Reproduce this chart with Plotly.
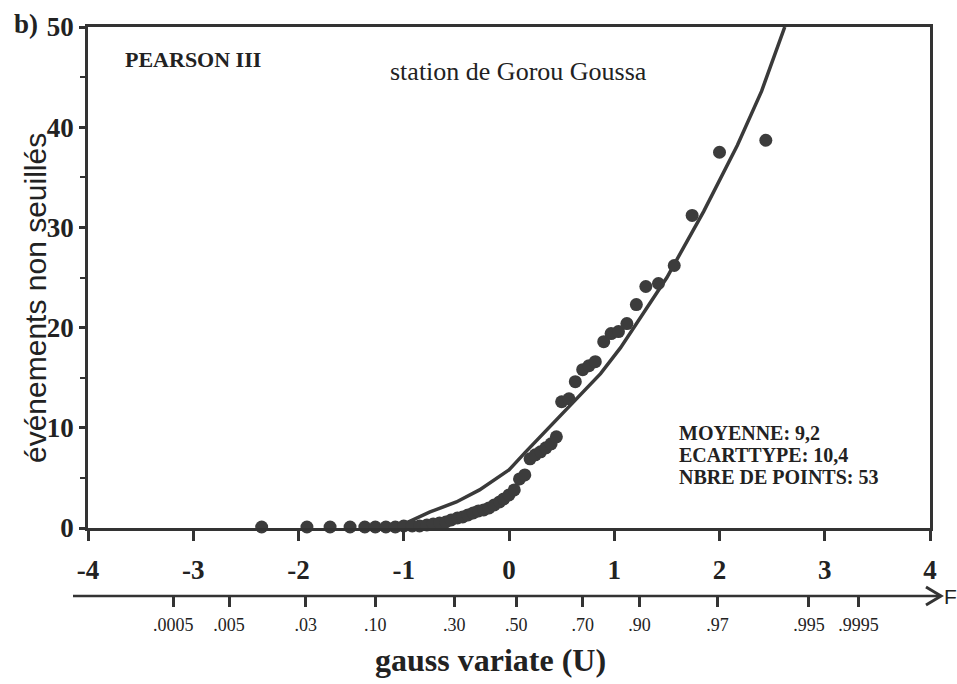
import plotly.graph_objects as go

# ---- data ----
U_OBS = [-2.35, -1.92, -1.70, -1.51, -1.37, -1.27, -1.17, -1.08, -1.00, -0.92,
         -0.85, -0.78, -0.72, -0.66, -0.60, -0.55, -0.49, -0.44, -0.39, -0.34,
         -0.29, -0.24, -0.19, -0.14, -0.09, -0.05, 0.00, 0.05, 0.10, 0.15,
         0.20, 0.25, 0.30, 0.35, 0.40, 0.45, 0.50, 0.57, 0.63, 0.70,
         0.76, 0.82, 0.90, 0.97, 1.04, 1.12, 1.21, 1.30, 1.42, 1.57,
         1.74, 2.00, 2.44]
Y_OBS = [0.1, 0.1, 0.1, 0.1, 0.1, 0.1, 0.1, 0.1, 0.2, 0.2,
         0.2, 0.3, 0.4, 0.5, 0.6, 0.8, 1.0, 1.1, 1.3, 1.5,
         1.7, 1.8, 2.0, 2.3, 2.6, 2.9, 3.3, 3.8, 4.9, 5.3,
         6.9, 7.3, 7.6, 8.0, 8.4, 9.1, 12.6, 12.9, 14.6, 15.8,
         16.2, 16.6, 18.6, 19.4, 19.6, 20.4, 22.3, 24.1, 24.4, 26.2,
         31.2, 37.5, 38.7]

U_FIT = [-1.15, -1.0, -0.75, -0.5, -0.28, 0.0, 0.15, 0.5, 0.87, 1.06,
         1.5, 1.85, 2.17, 2.4, 2.62]
Y_FIT = [0.0, 0.4, 1.6, 2.6, 3.8, 5.8, 7.5, 11.3, 15.4, 18.0,
         25.0, 31.6, 38.2, 43.6, 50.0]

X_TICKS = [-4, -3, -2, -1, 0, 1, 2, 3, 4]
X_LABELS = ["-4", "-3", "-2", "-1", "0", "1", "2", "3", "4"]
Y_TICKS = [0, 10, 20, 30, 40, 50]
F_LABELS = [".0005", ".005", ".03", ".10", ".30", ".50", ".70", ".90", ".97", ".995", ".9995"]
F_POS = [-3.19, -2.66, -1.93, -1.27, -0.52, 0.07, 0.70, 1.24, 1.98, 2.85, 3.32]

STATS = ["MOYENNE: 9,2", "ECARTTYPE: 10,4", "NBRE DE POINTS: 53"]

INK = "#333333"
TXT = "#222222"
SERIF = "Liberation Serif"

fig = go.Figure()
fig.add_trace(go.Scatter(x=U_FIT, y=Y_FIT, mode="lines",
                         line=dict(color="#3a3a3a", width=3.5),
                         showlegend=False, cliponaxis=True))
fig.add_trace(go.Scatter(x=U_OBS, y=Y_OBS, mode="markers",
                         marker=dict(color="#3c3c3c", size=13),
                         showlegend=False, cliponaxis=False))
# invisible trace on the F axis so it is drawn
fig.add_trace(go.Scatter(x=[-4, 4], y=[None, None], xaxis="x2", yaxis="y",
                         mode="lines", showlegend=False, hoverinfo="skip"))

W, H = 957, 684
ML, MR, MT, MB = 88, 27, 27, 88
PW = W - ML - MR
PH = H - MT - MB
plot_bottom_px = 528
ydom0 = (H - MB - plot_bottom_px) / PH


def px_x(p):
    return (p - ML) / PW


def px_y(p):
    return (H - MB - p) / PH


fig.update_layout(
    width=W, height=H,
    margin=dict(l=ML, r=MR, t=MT, b=MB),
    paper_bgcolor="white", plot_bgcolor="white",
    showlegend=False,
    xaxis=dict(range=[-4, 4], domain=[0, 1], anchor="y",
               tickmode="array", tickvals=X_TICKS, ticktext=X_LABELS,
               ticks="outside", ticklen=10, tickwidth=2.5, tickcolor=INK,
               showline=True, linewidth=2.5, linecolor=INK, mirror=True,
               showgrid=False, zeroline=False,
               tickfont=dict(family=SERIF, size=27, color=TXT, weight="bold"),
               ticklabelstandoff=6),
    xaxis2=dict(range=[-4, 4], overlaying="x", anchor="free", position=0, side="bottom",
                tickmode="array", tickvals=F_POS, ticktext=F_LABELS,
                ticks="outside", ticklen=10, tickwidth=2.5, tickcolor=INK,
                showline=False, showgrid=False, zeroline=False,
                tickfont=dict(family=SERIF, size=18, color=TXT),
                ticklabelstandoff=2),
    yaxis=dict(range=[0, 50], domain=[ydom0, 1], anchor="x",
               tickmode="array", tickvals=Y_TICKS,
               ticks="outside", ticklen=6, tickwidth=2.5, tickcolor=INK,
               minor=dict(dtick=5, ticks="outside", ticklen=5, tickwidth=2, tickcolor=INK),
               showline=True, linewidth=2.5, linecolor=INK, mirror=True,
               showgrid=False, zeroline=False,
               tickfont=dict(family=SERIF, size=27, color=TXT, weight="bold"),
               ticklabelstandoff=0),
)

# F arrow line with open chevron head
ay = 0.0
fig.add_shape(type="line", xref="paper", yref="paper",
              x0=px_x(73), x1=px_x(940), y0=ay, y1=ay,
              line=dict(color=INK, width=2.5))
fig.add_shape(type="path", xref="paper", yref="paper",
              path=f"M {px_x(926)},{ay + 9/PH} L {px_x(941)},{ay} L {px_x(926)},{ay - 9/PH}",
              line=dict(color=INK, width=3))

ann = []
ann.append(dict(text="F", xref="paper", yref="paper", x=px_x(942), y=ay,
                xanchor="left", yanchor="middle", showarrow=False,
                font=dict(family="Liberation Sans", size=21, color=TXT)))
ann.append(dict(text="gauss variate (U)", xref="paper", yref="paper",
                x=px_x(490), y=px_y(660), xanchor="center", yanchor="middle",
                showarrow=False,
                font=dict(family=SERIF, size=32, color=TXT, weight="bold")))
ann.append(dict(text="b)", xref="paper", yref="paper", x=px_x(12), y=px_y(24),
                xanchor="left", yanchor="middle", showarrow=False,
                font=dict(family=SERIF, size=27, color=TXT, weight="bold")))
ann.append(dict(text="événements non seuillés", xref="paper", yref="paper",
                x=px_x(35), y=px_y(298), xanchor="center", yanchor="middle",
                textangle=-90, showarrow=False,
                font=dict(family="Liberation Sans", size=30, color=TXT)))
ann.append(dict(text="PEARSON III", xref="x", yref="y", x=-3.67, y=46.8,
                xanchor="left", yanchor="middle", showarrow=False,
                font=dict(family=SERIF, size=22, color=TXT, weight="bold")))
ann.append(dict(text="station de Gorou Goussa", xref="x", yref="y", x=-1.15, y=45.6,
                xanchor="left", yanchor="middle", showarrow=False,
                font=dict(family=SERIF, size=26, color=TXT)))
for i, s in enumerate(STATS):
    ann.append(dict(text=s, xref="x", yref="y", x=1.6, y=9.5 - 2.2 * i,
                    xanchor="left", yanchor="middle", align="left", showarrow=False,
                    font=dict(family=SERIF, size=20, color=TXT, weight="bold")))
fig.update_layout(annotations=ann)

fig.write_html("out.html")
